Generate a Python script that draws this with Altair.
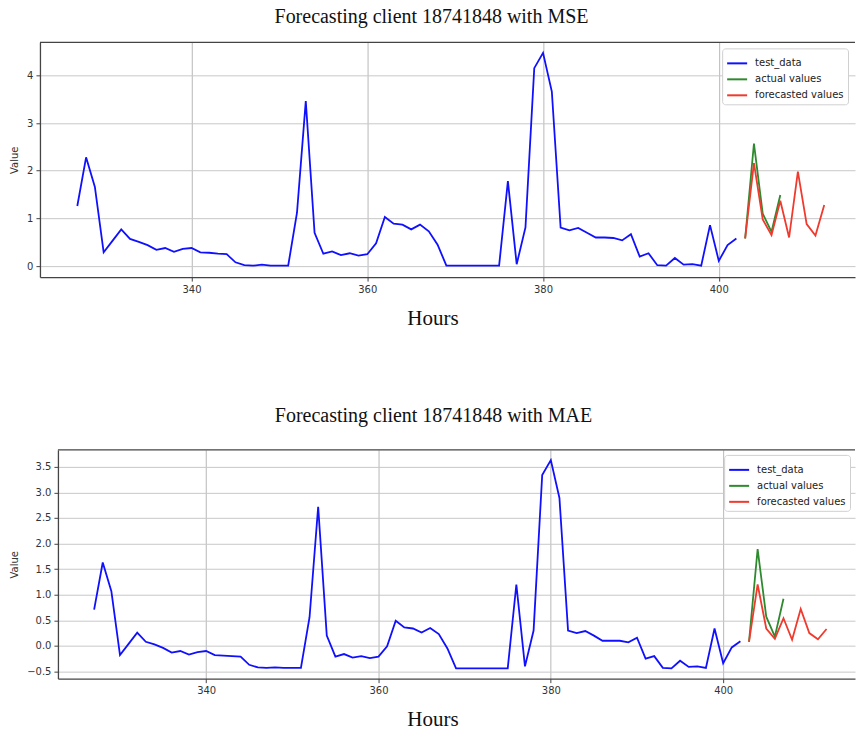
import altair as alt
import pandas as pd

# hourly load for client 18741848 (test window) and the 10-step forecasts
hours_test = list(range(327, 403))
hours_actual = list(range(403, 408))
hours_forecast = list(range(403, 413))

mse_test = [
    1.26, 2.28, 1.66, 0.29, 0.53, 0.77, 0.57, 0.51, 0.44, 0.34,
    0.38, 0.30, 0.36, 0.38, 0.29, 0.28, 0.26, 0.25, 0.08, 0.02,
    0.01, 0.03, 0.01, 0.01, 0.01, 1.12, 3.46, 0.70, 0.26, 0.31,
    0.23, 0.27, 0.22, 0.25, 0.48, 1.03, 0.89, 0.87, 0.77, 0.87,
    0.73, 0.45, 0.01, 0.01, 0.01, 0.01, 0.01, 0.01, 0.01, 1.78,
    0.04, 0.81, 4.15, 4.47, 3.66, 0.81, 0.75, 0.80, 0.70, 0.60,
    0.60, 0.59, 0.54, 0.67, 0.20, 0.27, 0.02, 0.01, 0.17, 0.03,
    0.04, 0.01, 0.86, 0.11, 0.44, 0.58,
]
mse_actual = [0.58, 2.57, 1.10, 0.72, 1.49]
mse_forecast = [0.58, 2.16, 0.98, 0.65, 1.37, 0.60, 1.98, 0.88, 0.64, 1.28]

mae_test = [
    0.71, 1.63, 1.07, -0.18, 0.04, 0.26, 0.08, 0.03, -0.04, -0.13,
    -0.10, -0.17, -0.12, -0.10, -0.18, -0.19, -0.20, -0.21, -0.37, -0.42,
    -0.43, -0.42, -0.43, -0.43, -0.43, 0.56, 2.72, 0.20, -0.21, -0.16,
    -0.23, -0.20, -0.24, -0.21, -0.01, 0.49, 0.36, 0.34, 0.26, 0.35,
    0.23, -0.05, -0.44, -0.44, -0.44, -0.44, -0.44, -0.44, -0.44, 1.20,
    -0.40, 0.30, 3.34, 3.63, 2.89, 0.30, 0.25, 0.29, 0.20, 0.10,
    0.10, 0.10, 0.07, 0.16, -0.25, -0.20, -0.43, -0.44, -0.29, -0.41,
    -0.40, -0.43, 0.34, -0.34, -0.03, 0.09,
]
mae_actual = [0.08, 1.89, 0.57, 0.18, 0.92]
mae_forecast = [0.08, 1.20, 0.34, 0.14, 0.54, 0.12, 0.72, 0.25, 0.13, 0.33]

series_names = ["test_data", "actual values", "forecasted values"]
series_colors = ["#1010ff", "#2f8a2f", "#f03a2e"]
x_ticks = [340, 360, 380, 400]

SANS = "DejaVu Sans"
SERIF = "Liberation Serif"
FRAME = "#444444"
PANEL_W = 816


def long_frame(test, actual, forecast):
    rows = []
    for h, v in zip(hours_test, test):
        rows.append({"hour": h, "value": v, "series": "test_data"})
    for h, v in zip(hours_actual, actual):
        rows.append({"hour": h, "value": v, "series": "actual values"})
    for h, v in zip(hours_forecast, forecast):
        rows.append({"hour": h, "value": v, "series": "forecasted values"})
    return pd.DataFrame(rows)


def panel(test, actual, forecast, title, x_domain, y_domain, y_ticks, y_format,
          inset, height, title_dx, title_offset, hours_x, value_x,
          legend_x, legend_y):
    """One forecast panel; the frame starts `inset` px right of the panel edge."""
    df = long_frame(test, actual, forecast)
    x = alt.X(
        "hour:Q",
        scale=alt.Scale(domain=x_domain, range=[inset, PANEL_W], nice=False, zero=False),
        axis=alt.Axis(
            values=x_ticks, title="Hours", titleFont=SERIF, titleFontSize=21,
            titleFontWeight="normal", titleColor="#111", titleX=hours_x, titleY=41,
            titleBaseline="middle", labelFont=SANS, labelFontSize=10,
            labelColor="#333", tickColor=FRAME, tickSize=4, labelPadding=3,
            gridColor="#b8b8b8", gridWidth=1,
            domainColor=FRAME, domainWidth=1.3,
        ),
    )
    y = alt.Y(
        "value:Q",
        scale=alt.Scale(domain=y_domain, nice=False, zero=False),
        axis=alt.Axis(
            values=y_ticks, format=y_format, title="Value", titleFont=SANS,
            titleFontSize=10, titleFontWeight="normal", titleColor="#333",
            titleX=value_x, titleY=height / 2, titleAngle=270,
            titleAlign="center", titleBaseline="middle",
            labelFont=SANS, labelFontSize=10, labelColor="#333",
            tickColor=FRAME, tickSize=4, labelPadding=3,
            gridColor="#c8c8c8", gridWidth=1, offset=-inset,
            domainColor=FRAME, domainWidth=1.3,
        ),
    )
    color = alt.Color(
        "series:N",
        title=None,
        scale=alt.Scale(domain=series_names, range=series_colors),
        legend=alt.Legend(
            orient="none", legendX=legend_x, legendY=legend_y,
            symbolType="stroke", symbolStrokeWidth=2, symbolSize=400,
            labelFont=SANS, labelFontSize=10, labelColor="#222",
            strokeColor="#d0d0d0", fillColor="white", cornerRadius=3,
            padding=4, rowPadding=0, labelOffset=7,
        ),
    )
    lines = alt.Chart(df).mark_line(strokeWidth=1.8, clip=True).encode(
        x=x, y=y, color=color, detail="series:N", order="hour:Q"
    )
    # top border of the plot frame
    top_edge = alt.Chart(pd.DataFrame({"edge": [0]})).mark_rule(
        color=FRAME, strokeWidth=1.3
    ).encode(x=alt.value(inset), x2=alt.value(PANEL_W), y=alt.value(0))
    # invisible anchor that fixes the left margin of the panel
    anchor = alt.Chart(pd.DataFrame({"edge": [0]})).mark_text(
        text=" ", opacity=0, align="left", fontSize=4
    ).encode(x=alt.value(-40), y=alt.value(height / 2))
    return alt.layer(lines, top_edge, anchor).properties(
        width=PANEL_W,
        height=height,
        title=alt.TitleParams(
            text=title, font=SERIF, fontSize=20, fontWeight="normal",
            color="#111", anchor="middle", dx=title_dx, offset=title_offset,
        ),
    )


top = panel(
    mse_test, mse_actual, mse_forecast,
    "Forecasting client 18741848 with MSE",
    [322.75, 415.5], [-0.23, 4.69], [0, 1, 2, 3, 4], "d",
    0, 235, -16, 15, 393, -25, 683, 6,
)
bottom = panel(
    mae_test, mae_actual, mae_forecast,
    "Forecasting client 18741848 with MAE",
    [322.8, 415.3], [-0.64, 3.83], [-0.5, 0.0, 0.5, 1.0, 1.5, 2.0, 2.5, 3.0, 3.5], ".1f",
    18, 229, -14, 23, 393, -43, 685, 5,
)

chart = alt.vconcat(top, bottom, spacing=78).resolve_scale(
    color="independent"
).resolve_legend(color="independent").properties(
    padding={"left": 0, "top": 6, "right": 0, "bottom": 0}
).configure_view(stroke=None).configure_axis(labelFlush=False)

chart.save("out.html", embed_options={"renderer": "svg", "actions": False})
